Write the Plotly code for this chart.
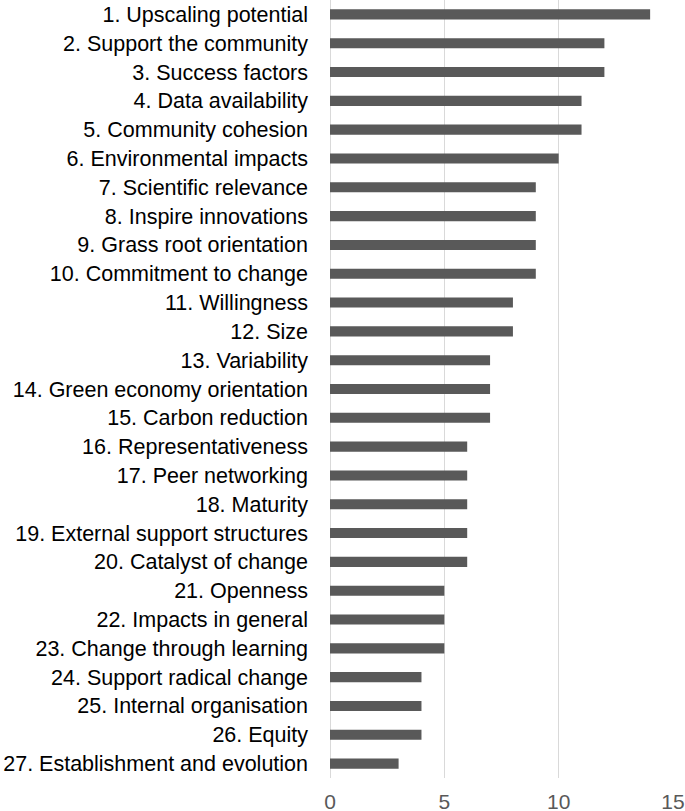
import plotly.graph_objects as go

categories = [
    "1. Upscaling potential", "2. Support the community", "3. Success factors",
    "4. Data availability", "5. Community cohesion", "6. Environmental impacts",
    "7. Scientific relevance", "8. Inspire innovations", "9. Grass root orientation",
    "10. Commitment to change", "11. Willingness", "12. Size", "13. Variability",
    "14. Green economy orientation", "15. Carbon reduction", "16. Representativeness",
    "17. Peer networking", "18. Maturity", "19. External support structures",
    "20. Catalyst of change", "21. Openness", "22. Impacts in general",
    "23. Change through learning", "24. Support radical change",
    "25. Internal organisation", "26. Equity", "27. Establishment and evolution",
]
values = [14, 12, 12, 11, 11, 10, 9, 9, 9, 9, 8, 8, 7, 7, 7, 6, 6, 6, 6, 6, 5, 5, 5, 4, 4, 4, 3]
x_ticks = [0, 5, 10, 15]

fig = go.Figure(go.Bar(
    x=values, y=categories, orientation="h",
    marker=dict(color="#595959", line=dict(width=0)),
))

fig.update_layout(
    width=685, height=811,
    margin=dict(l=330, r=12, t=0, b=33, autoexpand=False),
    paper_bgcolor="white", plot_bgcolor="white",
    bargap=0.65,
    showlegend=False,
    font=dict(family="Liberation Sans, Arial, sans-serif", size=21.5, color="#000000"),
)
fig.update_xaxes(
    range=[0, 15], tickvals=x_ticks, showgrid=True, gridcolor="#d9d9d9", gridwidth=1,
    zeroline=True, zerolinecolor="#d9d9d9", zerolinewidth=1, automargin=False,
    tickfont=dict(color="#595959", size=21), showline=False, ticks="",
    ticklabelstandoff=9,
)
fig.update_yaxes(
    autorange="reversed", showgrid=False, ticks="", showline=False, automargin=False,
    tickfont=dict(color="#000000", size=21.5), ticklabelstandoff=21,
)

fig.write_html(
    "out.html",
    config={"displayModeBar": False},
    post_script="document.body.style.margin='0';document.body.style.padding='0';",
)
